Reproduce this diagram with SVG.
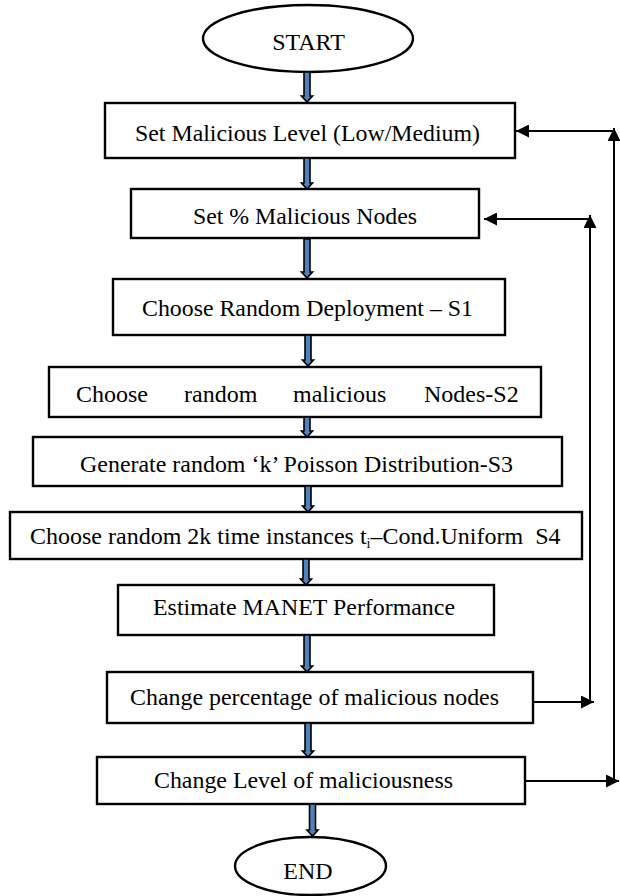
<svg xmlns="http://www.w3.org/2000/svg" width="620" height="896" viewBox="0 0 620 896">
  <style>
    .box { fill: #ffffff; stroke: #000000; stroke-width: 2.4; }
    .term { fill: #ffffff; stroke: #000000; stroke-width: 2.4; }
    .lbl { font-family: 'Liberation Serif', 'Times New Roman', serif; font-size: 24px; fill: #000000; }
    .blk { fill: #4f81bd; stroke: #000000; stroke-width: 1.6; stroke-linejoin: miter; }
    .fb { fill: none; stroke: #000000; stroke-width: 2; marker-end: url(#tip); }
  </style>
  <defs>
    <marker id="tip" markerUnits="userSpaceOnUse" markerWidth="13" markerHeight="13" viewBox="0 0 13 13" refX="13" refY="6.5" orient="auto">
      <path d="M0,0 L13,6.5 L0,13 Z" fill="#000000"/>
    </marker>
  </defs>

  <!-- terminals -->
  <g id="start">
    <ellipse class="term" cx="308" cy="38.5" rx="105" ry="33.5"/>
    <text class="lbl" x="308.5" y="50" text-anchor="middle">START</text>
  </g>
  <g id="end">
    <ellipse class="term" cx="310.5" cy="866" rx="75.5" ry="29"/>
    <text class="lbl" x="308" y="879" text-anchor="middle">END</text>
  </g>

  <!-- process steps -->
  <g id="set-level">
    <rect class="box" x="105" y="103" width="410" height="55"/>
    <text class="lbl" x="135" y="141" textLength="345" lengthAdjust="spacingAndGlyphs">Set Malicious Level (Low/Medium)</text>
  </g>
  <g id="set-percent">
    <rect class="box" x="131" y="189" width="348" height="49"/>
    <text class="lbl" x="193" y="224" textLength="224" lengthAdjust="spacingAndGlyphs">Set % Malicious Nodes</text>
  </g>
  <g id="s1">
    <rect class="box" x="113" y="279" width="392" height="56"/>
    <text class="lbl" x="142" y="316" textLength="331" lengthAdjust="spacingAndGlyphs">Choose Random Deployment – S1</text>
  </g>
  <g id="s2">
    <rect class="box" x="49" y="367" width="492" height="50"/>
    <text class="lbl" y="402"><tspan x="76">Choose</tspan><tspan x="184">random</tspan><tspan x="293">malicious</tspan><tspan x="424">Nodes-S2</tspan></text>
  </g>
  <g id="s3">
    <rect class="box" x="33" y="437" width="529" height="49"/>
    <text class="lbl" x="80" y="472" textLength="433" lengthAdjust="spacingAndGlyphs">Generate random ‘k’ Poisson Distribution-S3</text>
  </g>
  <g id="s4">
    <rect class="box" x="10" y="512" width="572" height="47"/>
    <text class="lbl" x="30" y="544" xml:space="preserve">Choose random 2k time instances t<tspan font-size="14" dy="4">i</tspan><tspan dy="-4">–Cond.Uniform  S4</tspan></text>
  </g>
  <g id="estimate">
    <rect class="box" x="118" y="585" width="376" height="50"/>
    <text class="lbl" x="153" y="615" textLength="302" lengthAdjust="spacingAndGlyphs">Estimate MANET Performance</text>
  </g>
  <g id="change-percent">
    <rect class="box" x="107" y="672" width="426" height="51"/>
    <text class="lbl" x="130" y="705" textLength="369" lengthAdjust="spacingAndGlyphs">Change percentage of malicious nodes</text>
  </g>
  <g id="change-level">
    <rect class="box" x="97" y="757" width="428" height="47"/>
    <text class="lbl" x="154" y="788" textLength="299" lengthAdjust="spacingAndGlyphs">Change Level of maliciousness</text>
  </g>

  <!-- connectors -->
  <g id="connectors">
    <!-- downward block arrows between steps -->
    <path class="blk" d="M304,72 L310,72 L310,96 L312.5,96 L307,102 L301.5,96 L304,96 Z"/>
    <path class="blk" d="M304,158 L310,158 L310,183 L312.5,183 L307,189 L301.5,183 L304,183 Z"/>
    <path class="blk" d="M304,239 L310,239 L310,272 L312.5,272 L307,278 L301.5,272 L304,272 Z"/>
    <path class="blk" d="M305,335 L311,335 L311,360 L313.5,360 L308,366 L302.5,360 L305,360 Z"/>
    <path class="blk" d="M304,417 L310,417 L310,431 L312.5,431 L307,437 L301.5,431 L304,431 Z"/>
    <path class="blk" d="M305,486 L311,486 L311,506 L313.5,506 L308,512 L302.5,506 L305,506 Z"/>
    <path class="blk" d="M303,559 L309,559 L309,579 L311.5,579 L306,585 L300.5,579 L303,579 Z"/>
    <path class="blk" d="M304,635 L310,635 L310,666 L312.5,666 L307,672 L301.5,666 L304,666 Z"/>
    <path class="blk" d="M305,723 L311,723 L311,751 L313.5,751 L308,757 L302.5,751 L305,751 Z"/>
    <path class="blk" d="M309.5,804 L315.5,804 L315.5,830 L318,830 L312.5,836 L307,830 L309.5,830 Z"/>

    <!-- feedback: change percentage back to set % -->
    <line class="fb" x1="533" y1="702" x2="594" y2="702"/>
    <line class="fb" x1="590" y1="702" x2="590" y2="215"/>
    <line class="fb" x1="590" y1="219" x2="484" y2="219"/>

    <!-- feedback: change level back to set level -->
    <line class="fb" x1="525" y1="781" x2="619" y2="781"/>
    <line class="fb" x1="614" y1="781" x2="614" y2="128"/>
    <line class="fb" x1="614" y1="131" x2="516" y2="131"/>
  </g>
</svg>
